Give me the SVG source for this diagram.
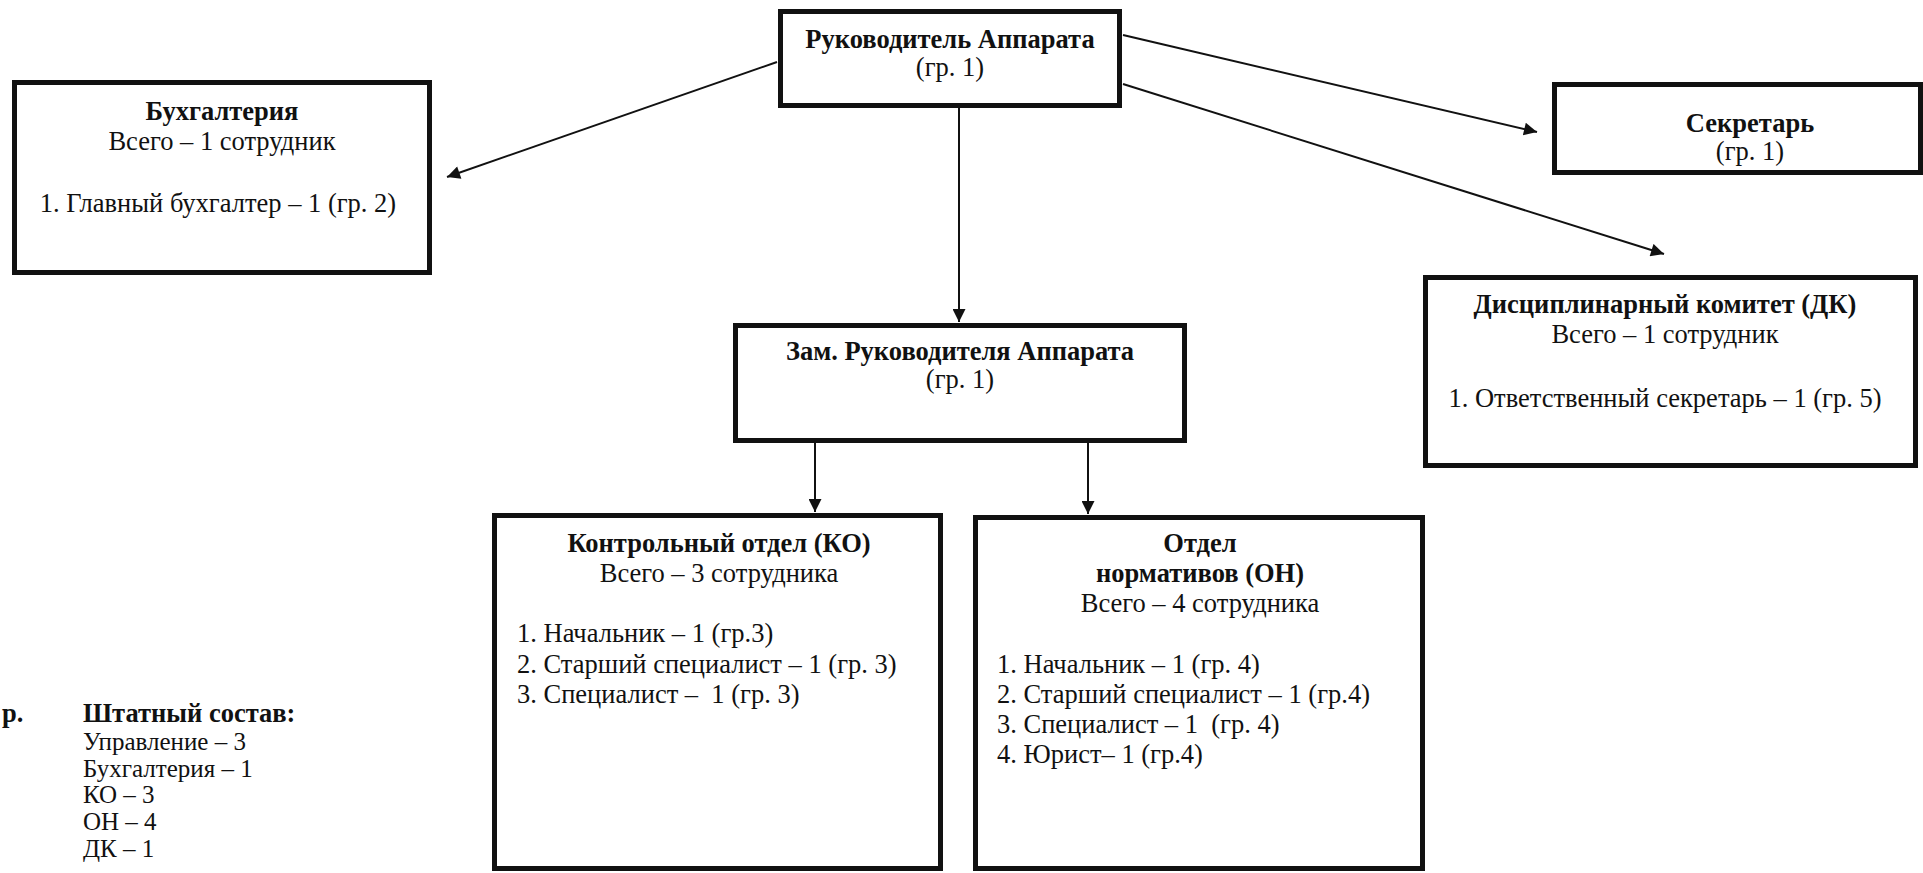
<svg xmlns="http://www.w3.org/2000/svg" width="1923" height="873" viewBox="0 0 1923 873">
<style>
.box{fill:#fff;stroke:#111;stroke-width:5}
.t{font-family:"Liberation Serif","Times New Roman",serif;font-size:26.5px;fill:#111}
.lg{font-size:25px}
.b{font-weight:bold}
.c{text-anchor:middle}
.con{stroke:#111;stroke-width:2;fill:none;marker-end:url(#ah)}
</style>
<defs>
<marker id="ah" viewBox="0 0 10 10" refX="10" refY="5" markerWidth="17" markerHeight="13" markerUnits="userSpaceOnUse" orient="auto">
<path d="M0,0 L10,5 L0,10 z" fill="#111"/>
</marker>
</defs>
<rect width="1923" height="873" fill="#fff"/>
<g id="connectors">
<line class="con" x1="777" y1="62" x2="447" y2="177"/>
<line class="con" x1="1123" y1="35" x2="1537" y2="132"/>
<line class="con" x1="1123" y1="84" x2="1664" y2="254"/>
<line class="con" x1="959" y1="108" x2="959" y2="322"/>
<line class="con" x1="815" y1="443" x2="815" y2="512"/>
<line class="con" x1="1088" y1="443" x2="1088" y2="514"/>
</g>
<g id="head">
<rect class="box" x="780.5" y="11.5" width="339" height="94"/>
<text class="t b c" x="950" y="48">Руководитель Аппарата</text>
<text class="t c" x="950" y="76">(гр. 1)</text>
</g>
<g id="buh">
<rect class="box" x="14.5" y="82.5" width="415" height="190"/>
<text class="t b c" x="222" y="120">Бухгалтерия</text>
<text class="t c" x="222" y="150">Всего – 1 сотрудник</text>
<text class="t c" x="218" y="212">1. Главный бухгалтер – 1 (гр. 2)</text>
</g>
<g id="secretary">
<rect class="box" x="1554.5" y="84.5" width="366" height="88"/>
<text class="t b c" x="1750" y="132">Секретарь</text>
<text class="t c" x="1750" y="160">(гр. 1)</text>
</g>
<g id="dk">
<rect class="box" x="1425.5" y="277.5" width="490" height="188"/>
<text class="t b c" x="1665" y="313">Дисциплинарный комитет (ДК)</text>
<text class="t c" x="1665" y="343">Всего – 1 сотрудник</text>
<text class="t c" x="1665" y="407">1. Ответственный секретарь – 1 (гр. 5)</text>
</g>
<g id="deputy">
<rect class="box" x="735.5" y="325.5" width="449" height="115"/>
<text class="t b c" x="960" y="360">Зам. Руководителя Аппарата</text>
<text class="t c" x="960" y="388">(гр. 1)</text>
</g>
<g id="ko">
<rect class="box" x="494.5" y="515.5" width="446" height="353"/>
<text class="t b c" x="719" y="552">Контрольный отдел (КО)</text>
<text class="t c" x="719" y="582">Всего – 3 сотрудника</text>
<text class="t" x="517" y="642">1. Начальник – 1 (гр.3)</text>
<text class="t" x="517" y="673">2. Старший специалист – 1 (гр. 3)</text>
<text class="t" x="517" y="703" xml:space="preserve">3. Специалист –  1 (гр. 3)</text>
</g>
<g id="on">
<rect class="box" x="975.5" y="517.5" width="447" height="351"/>
<text class="t b c" x="1200" y="552">Отдел</text>
<text class="t b c" x="1200" y="582">нормативов (ОН)</text>
<text class="t c" x="1200" y="612">Всего – 4 сотрудника</text>
<text class="t" x="997" y="673">1. Начальник – 1 (гр. 4)</text>
<text class="t" x="997" y="703">2. Старший специалист – 1 (гр.4)</text>
<text class="t" x="997" y="733" xml:space="preserve">3. Специалист – 1  (гр. 4)</text>
<text class="t" x="997" y="763">4. Юрист– 1 (гр.4)</text>
</g>
<g id="legend">
<text class="t b" x="2" y="722">р.</text>
<text class="t b" x="83" y="722">Штатный состав:</text>
<text class="t lg" x="83" y="750">Управление – 3</text>
<text class="t lg" x="83" y="777">Бухгалтерия – 1</text>
<text class="t lg" x="83" y="803">КО – 3</text>
<text class="t lg" x="83" y="830">ОН – 4</text>
<text class="t lg" x="83" y="857">ДК – 1</text>
</g>
</svg>
